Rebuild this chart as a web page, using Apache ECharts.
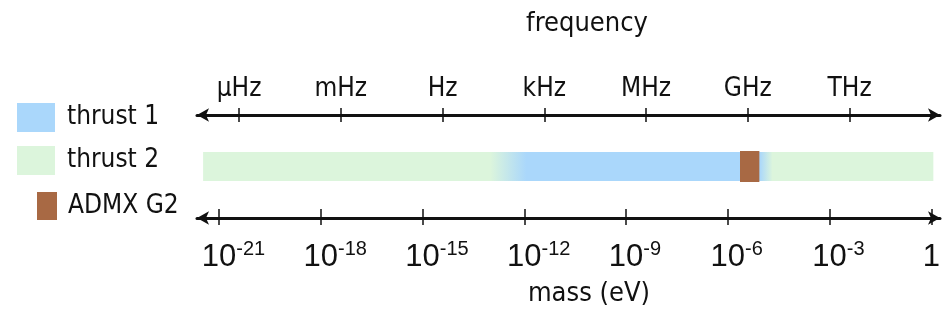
<!DOCTYPE html>
<html>
<head>
<meta charset="utf-8">
<script src="https://cdn.jsdelivr.net/npm/echarts@6/dist/echarts.min.js"></script>
<style>
  html, body { margin: 0; padding: 0; background: #fff; }
  #chart { width: 946px; height: 324px; }
</style>
</head>
<body>
<div id="chart"></div>
<script>
// everything on the x axis is log10(mass / eV)
var massTicks = [-21, -18, -15, -12, -9, -6, -3, 0];
var freqTicks = [-20.41, -17.41, -14.41, -11.41, -8.41, -5.41, -2.41];
var freqLabels = ['μHz', 'mHz', 'Hz', 'kHz', 'MHz', 'GHz', 'THz'];

var thrust2Range = [-21.47, 0.06];
var thrust1Range = [-13.0, -4.68];   // outer edges of the faded ends
var thrust1Solid = [-11.94, -5.06];  // fully blue between these
var admxRange = [-5.64, -5.07];

var xMin = -21.65, xMax = 0.256;
var FONT = '"DejaVu Sans Condensed", "DejaVu Sans", sans-serif';
var NARROW = '"Liberation Sans Narrow", "Liberation Sans", sans-serif';
var INK = '#111';

function massLabel(v) {
  var i = massTicks.indexOf(Math.round(v));
  if (i < 0) return '';
  var e = massTicks[i];
  if (e === 0) return '{b|1}';
  return '{p|' + e + '}{b|10}{s|' + e + '}';
}

function freqLabel(v) {
  for (var i = 0; i < freqTicks.length; i++) {
    if (Math.abs(freqTicks[i] - v) < 1e-6) return freqLabels[i];
  }
  return '';
}

function band(h, fillFn) {
  return function(params, api) {
    var p0 = api.coord([api.value(0), 0.5]);
    var p1 = api.coord([api.value(1), 0.5]);
    return {
      type: 'rect',
      shape: { x: p0[0], y: p0[1] - h / 2, width: p1[0] - p0[0], height: h },
      style: { fill: fillFn(api) }
    };
  };
}

var span = thrust1Range[1] - thrust1Range[0];
var blueFade = new echarts.graphic.LinearGradient(0, 0, 1, 0, [
  { offset: 0, color: 'rgba(170,215,251,0)' },
  { offset: (thrust1Solid[0] - thrust1Range[0]) / span, color: 'rgba(170,215,251,1)' },
  { offset: (thrust1Solid[1] - thrust1Range[0]) / span, color: 'rgba(170,215,251,1)' },
  { offset: 1, color: 'rgba(170,215,251,0)' }
]);

function axisBase(pos) {
  return {
    type: 'value', position: pos, min: xMin, max: xMax,
    splitLine: { show: false },
    axisLine: { show: false },
    axisLabel: { show: false },
    axisTick: { show: false }
  };
}

var bottomMain = axisBase('bottom');
bottomMain.axisLine = { show: true, symbol: ['arrow', 'arrow'], symbolSize: [10, 12],
  lineStyle: { color: INK, width: 3 } };
bottomMain.axisTick = { show: true, customValues: massTicks, length: 7, lineStyle: { color: INK, width: 1.5 } };
bottomMain.axisLabel = {
  show: true, customValues: massTicks, margin: 21, formatter: massLabel,
  rich: {
    b: { fontFamily: NARROW, fontSize: 31, lineHeight: 34, color: INK, verticalAlign: 'bottom' },
    s: { fontFamily: NARROW, fontSize: 20, lineHeight: 20, color: INK, verticalAlign: 'top' },
    p: { fontFamily: NARROW, fontSize: 20, lineHeight: 20, color: 'rgba(0,0,0,0)', verticalAlign: 'top' }
  }
};

var bottomUp = axisBase('bottom');
bottomUp.axisTick = { show: true, inside: true, customValues: massTicks, length: 9, lineStyle: { color: INK, width: 1.5 } };

var topMain = axisBase('top');
topMain.axisLine = { show: true, symbol: ['arrow', 'arrow'], symbolSize: [10, 12],
  lineStyle: { color: INK, width: 3 } };
topMain.axisTick = { show: true, customValues: freqTicks, length: 7, lineStyle: { color: INK, width: 1.5 } };
topMain.axisLabel = { show: true, customValues: freqTicks, margin: 13, formatter: freqLabel,
  fontFamily: FONT, fontSize: 26, color: INK };

var topDown = axisBase('top');
topDown.axisTick = { show: true, inside: true, customValues: freqTicks, length: 7, lineStyle: { color: INK, width: 1.5 } };

var chart = echarts.init(document.getElementById('chart'), null, { renderer: 'canvas' });
chart.setOption({
  animation: false,
  backgroundColor: '#fff',
  title: [
    { text: 'frequency', left: 587, top: 10, padding: 0, textAlign: 'center',
      textStyle: { fontFamily: FONT, fontSize: 27, fontWeight: 'normal', color: INK } },
    { text: 'mass (eV)', left: 589, top: 280, padding: 0, textAlign: 'center',
      textStyle: { fontFamily: FONT, fontSize: 27, fontWeight: 'normal', color: INK } }
  ],
  legend: [
    { data: ['thrust 1', 'thrust 2'], orient: 'vertical', left: 17, top: 103, padding: 0,
      itemWidth: 38, itemHeight: 29, itemGap: 14, icon: 'rect', selectedMode: false,
      textStyle: { fontFamily: FONT, fontSize: 26, color: INK, padding: [0, 0, 0, 7] } },
    { data: ['ADMX G2'], orient: 'vertical', left: 37, top: 192, padding: 0,
      itemWidth: 20, itemHeight: 28, icon: 'rect', selectedMode: false,
      textStyle: { fontFamily: FONT, fontSize: 26, color: INK, padding: [0, 0, 0, 6] } }
  ],
  grid: { left: 197, right: 6, top: 115, bottom: 106, containLabel: false },
  xAxis: [bottomMain, bottomUp, topMain, topDown],
  yAxis: { type: 'value', min: 0, max: 1, show: false },
  series: [
    { name: 'thrust 2', type: 'custom', xAxisIndex: 0, itemStyle: { color: '#dcf5dc' },
      renderItem: band(29, function() { return '#dcf5dc'; }),
      data: [thrust2Range] },
    { name: 'thrust 1', type: 'custom', xAxisIndex: 0, itemStyle: { color: '#aad7fb' },
      renderItem: band(29, function() { return blueFade; }),
      data: [thrust1Range] },
    { name: 'ADMX G2', type: 'custom', xAxisIndex: 0, itemStyle: { color: '#a86944' },
      renderItem: band(31, function() { return '#a86944'; }),
      data: [admxRange] }
  ]
});
</script>
</body>
</html>
